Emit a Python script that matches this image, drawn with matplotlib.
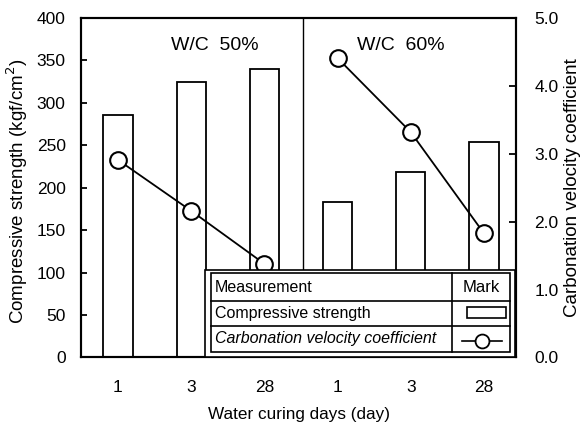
import numpy as np
import matplotlib.pyplot as plt
from matplotlib.patches import Rectangle
from matplotlib.lines import Line2D

plt.rcParams['font.family'] = ['Liberation Sans', 'DejaVu Sans']

# water curing days, two W/C groups side by side
days = ['1', '3', '28', '1', '3', '28']
strength_50 = [286, 325, 340]   # kgf/cm2
strength_60 = [183, 219, 254]
carb_50 = [2.91, 2.16, 1.38]    # carbonation velocity coefficient
carb_60 = [4.41, 3.32, 1.83]

strength = strength_50 + strength_60
x = np.arange(len(days))

fig = plt.figure(figsize=(5.84, 4.32), dpi=100)
ax = fig.add_axes([0.1387, 0.1725, 0.745, 0.7858])

ax.bar(x, strength, width=0.4, facecolor='white', edgecolor='black',
       linewidth=1.3, zorder=2)
ax.axvline(2.53, color='black', lw=1.0, zorder=1)

ax.set_xlim(-0.505, 5.44)
ax.set_ylim(0, 400)
ax.set_yticks(np.arange(0, 401, 50))
ax.set_xticks(x)
ax.set_xticklabels(days)
ax.tick_params(axis='y', direction='in', length=4, width=1.3, pad=11, labelsize=12.5)
ax.tick_params(axis='x', length=0, pad=16, labelsize=12.5)
for s in ax.spines.values():
    s.set_linewidth(1.5)

ax.set_ylabel('Compressive strength (kgf/cm$^2$)', fontsize=13.5, va='center')
ax.yaxis.set_label_coords(-0.147, 0.49)
ax.set_xlabel('Water curing days (day)', fontsize=12.3, labelpad=9)

ax.text(1.32, 368, 'W/C  50%', ha='center', va='center', fontsize=14)
ax.text(3.87, 368, 'W/C  60%', ha='center', va='center', fontsize=14)

ax2 = ax.twinx()
ax2.set_ylim(0, 5)
ax2.set_yticks(np.arange(0, 5.1, 1.0))
ax2.set_yticklabels(['%.1f' % v for v in np.arange(0, 5.1, 1.0)])
ax2.tick_params(axis='y', direction='in', length=5, width=1.3, pad=13, labelsize=12.5)
for s in ax2.spines.values():
    s.set_linewidth(1.5)
ax2.set_ylabel('Carbonation velocity coefficient', fontsize=13.5, va='center')
ax2.yaxis.set_label_coords(1.13, 0.5)

for xs, ys in [(x[:3], carb_50), (x[3:], carb_60)]:
    ax2.plot(xs, ys, '-o', color='black', mfc='white', mec='black',
             ms=12, mew=1.5, lw=1.3, zorder=3)

# key table in the lower right corner
tr = ax2.transAxes
ax2.add_patch(Rectangle((0.285, 0.0), 0.713, 0.258, transform=tr,
                        facecolor='white', edgecolor='black', lw=1.2, zorder=5))
ax2.add_patch(Rectangle((0.299, 0.016), 0.687, 0.233, transform=tr,
                        facecolor='white', edgecolor='black', lw=1.2, zorder=6))
for yy in [0.166, 0.093]:
    ax2.add_line(Line2D([0.299, 0.986], [yy, yy], transform=tr,
                        color='black', lw=1.2, zorder=7))
ax2.add_line(Line2D([0.853, 0.853], [0.016, 0.249], transform=tr,
                    color='black', lw=1.2, zorder=7))

ax2.text(0.307, 0.2075, 'Measurement', transform=tr, ha='left', va='center',
         fontsize=11.5, zorder=8)
ax2.text(0.9195, 0.2075, 'Mark', transform=tr, ha='center', va='center',
         fontsize=12, zorder=8)
ax2.text(0.307, 0.1295, 'Compressive strength', transform=tr, ha='left',
         va='center', fontsize=11.5, zorder=8)
ax2.text(0.307, 0.0545, 'Carbonation velocity coefficient', transform=tr,
         ha='left', va='center', fontsize=11.5, style='italic', zorder=8)

ax2.add_patch(Rectangle((0.887, 0.116), 0.09, 0.033, transform=tr,
                        facecolor='white', edgecolor='black', lw=1.2, zorder=8))
ax2.add_line(Line2D([0.876, 0.968], [0.0495, 0.0495], transform=tr,
                    color='black', lw=1.2, zorder=8))
ax2.add_line(Line2D([0.922], [0.0495], transform=tr, marker='o', ms=10,
                    mfc='white', mec='black', mew=1.3, zorder=9))

fig.savefig('out.png', dpi=100)
